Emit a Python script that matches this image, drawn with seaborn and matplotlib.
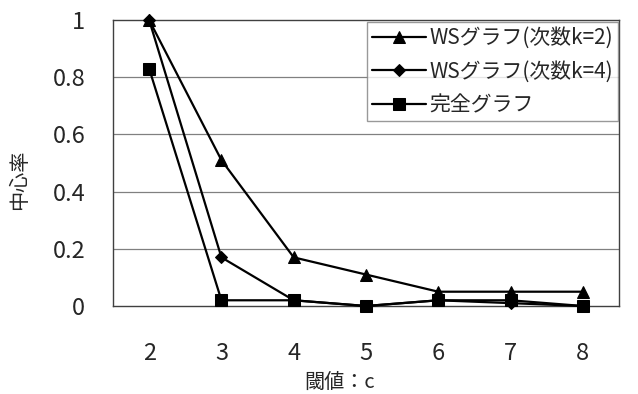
import matplotlib
matplotlib.use("Agg")
import matplotlib.pyplot as plt
import seaborn as sns
import pandas as pd

thresholds = [2, 3, 4, 5, 6, 7, 8]
ws_k2 = [1.0, 0.51, 0.17, 0.11, 0.05, 0.05, 0.05]
ws_k4 = [1.0, 0.17, 0.02, 0.0, 0.02, 0.01, 0.0]
complete = [0.83, 0.02, 0.02, 0.0, 0.02, 0.02, 0.0]
series_names = ["WSグラフ(次数k=2)", "WSグラフ(次数k=4)", "完全グラフ"]
yticks = [0, 0.2, 0.4, 0.6, 0.8, 1.0]
ytick_labels = ["0", "0.2", "0.4", "0.6", "0.8", "1"]

sns.set_style("white")
plt.rcParams['font.family'] = ['Noto Sans CJK JP', 'DejaVu Sans']

fig = plt.figure(figsize=(6.38, 3.94), dpi=100)
ax = fig.add_axes([113/638, 1-306/394, (619-113)/638, (306-20)/394])

df = pd.DataFrame({
    "x": thresholds * 3,
    "y": ws_k2 + ws_k4 + complete,
    "s": [series_names[0]]*7 + [series_names[1]]*7 + [series_names[2]]*7,
})

markers = ["^", "D", "s"]
msizes = [9, 6.5, 8]
for name, m, ms in zip(series_names, markers, msizes):
    sub = df[df["s"] == name]
    sns.lineplot(data=sub, x="x", y="y", ax=ax, color="black", lw=1.6,
                 marker=m, markersize=ms, markeredgecolor="black",
                 markerfacecolor="black", label=name, clip_on=False, zorder=5)

ax.set_xlim(1.5, 8.5)
ax.set_ylim(0, 1)
ax.set_yticks(yticks)
ax.set_yticklabels(ytick_labels)
ax.set_xticks(thresholds)
ax.set_xticklabels([str(t) for t in thresholds])
ax.set_xticks([2.5, 3.5, 4.5, 5.5, 6.5, 7.5], minor=True)
ax.tick_params(axis="x", which="major", length=0, pad=26, labelsize=17)
ax.tick_params(axis="x", which="minor", direction="in", length=8, width=0.8, color="#666666")
ax.tick_params(axis="y", which="major", direction="out", length=3, pad=17, labelsize=17, color="#666666")
ax.set_xlabel("")
ax.set_ylabel("")
for y in [0.2, 0.4, 0.6, 0.8]:
    ax.axhline(y, color="#808080", lw=0.9, zorder=1)
for sp in ax.spines.values():
    sp.set_color("#404040")
    sp.set_linewidth(1.0)

fig.text(20/638, 1-180/394, "中心率", rotation=90, ha="center", va="center", fontsize=14.5)
fig.text(340/638, 1-382/394, "閾値：c", ha="center", va="center", fontsize=14.5)

leg = ax.legend(loc="upper left", bbox_to_anchor=((367-113)/506, 1-2/286),
                frameon=True, fancybox=False, fontsize=15, handlelength=2.6,
                handletextpad=0.15, borderpad=0.25, labelspacing=0.55, borderaxespad=0)
leg.get_frame().set_edgecolor("#808080")
leg.get_frame().set_linewidth(1.0)
leg.set_zorder(10)

fig.savefig("out.png", dpi=100)
